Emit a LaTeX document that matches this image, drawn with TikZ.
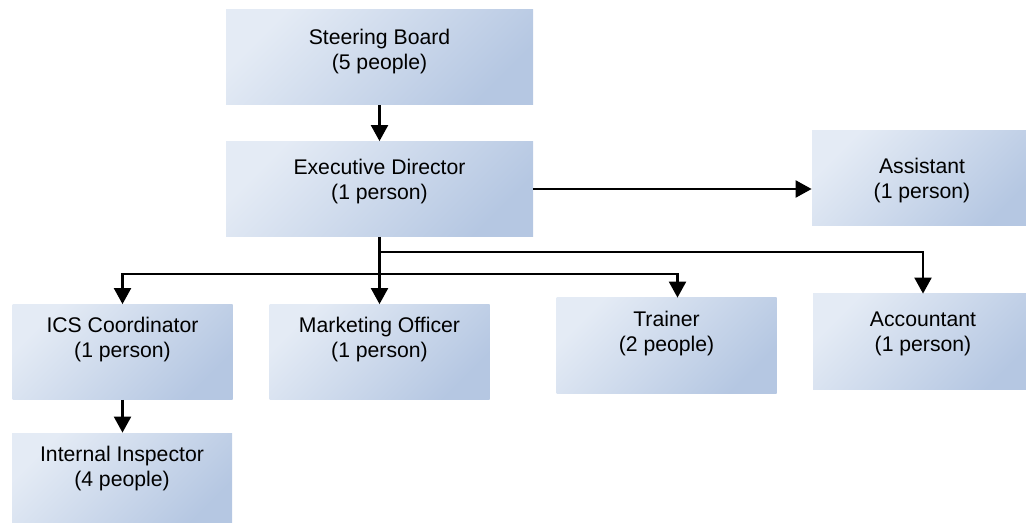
\documentclass[tikz,border=0pt]{standalone}
\usepackage{fontspec}
\setmainfont{Liberation Sans}
\usetikzlibrary{arrows.meta}
\definecolor{boxlight}{HTML}{E4EBF5}
\definecolor{boxdark}{HTML}{B5C7E2}
\tikzset{
  unit/.style={top color=boxlight, bottom color=boxdark, shading angle=45,
    minimum height=47.5pt, inner sep=2pt, align=center, text height=24pt,
    font=\fontsize{10.6}{12.5}\selectfont},
  wideunit/.style={unit, minimum width=153.5pt},
  smallunit/.style={unit, minimum width=110pt},
  link/.style={line width=1.1pt, -{Triangle[length=8pt,width=8.5pt]}}
}

\begin{document}
\begin{tikzpicture}[x=0.5pt, y=-0.5pt]
  \clip (0,0) rectangle (1026,523);

  \node[wideunit, text depth=11.5pt] (board) at (379.5,57.5) {Steering Board\\(5 people)};
  \node[wideunit, text depth=13.5pt] (director) at (379.5,189) {Executive Director\\(1 person)};
  \node[smallunit, text depth=3.5pt] (assistant) at (922,178.5) {Assistant\\(1 person)};
  \node[smallunit, text depth=18.5pt] (ics) at (122.5,352) {ICS Coordinator\\(1 person)};
  \node[smallunit, text depth=18.5pt] (marketing) at (379.5,352) {Marketing Officer\\(1 person)};
  \node[smallunit, text depth=18.5pt] (trainer) at (666.5,345.5) {Trainer\\(2 people)};
  \node[smallunit, text depth=14.5pt] (accountant) at (923,341.5) {Accountant\\(1 person)};
  \node[smallunit, text depth=18.5pt] (inspector) at (122,480.5) {Internal Inspector\\(4 people)};

  \coordinate (fork1) at (379.5,252);
  \coordinate (fork2) at (379.5,274);

  \draw[link] (board) -- (director);
  \draw[link] (director.east) -- (director.east -| assistant.west);
  \draw[link] (director) -- (marketing);
  \draw[link] (fork1) -| (accountant.north);
  \draw[link] (fork2) -| (ics.north);
  \draw[link] (fork2) -| ([xshift=5.5pt]trainer.north);
  \draw[link] (ics.south) -- (ics.south |- inspector.north);
\end{tikzpicture}
\end{document}
